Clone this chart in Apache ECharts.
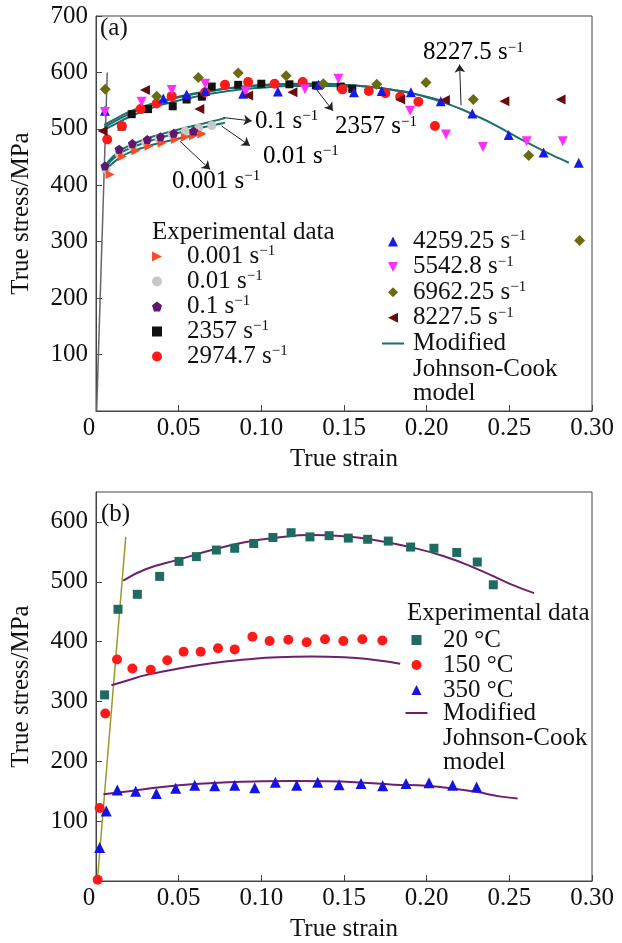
<!DOCTYPE html>
<html>
<head>
<meta charset="utf-8">
<script src="https://cdn.jsdelivr.net/npm/echarts@6/dist/echarts.min.js"></script>
<style>
html, body { margin: 0; padding: 0; background: #fff; }
#main { width: 622px; height: 943px; }
</style>
</head>
<body>
<div id="main"></div>
<script>
// panel (a) experimental data, [true strain, true stress MPa]
var rate0001 = [[0.0085,419],[0.016,451],[0.024,461],[0.032,469],[0.04,475],[0.048,481],[0.054,485],[0.059,488],[0.064,491]];
var rate001 = [[0.006,428],[0.014,456],[0.022,468],[0.030,476],[0.038,483],[0.046,490],[0.054,496],[0.062,501],[0.07,506]];
var rate01 = [[0.0054,434],[0.014,464],[0.022,474],[0.031,481],[0.039,486],[0.047,492],[0.059,496]];
var rate2357 = [[0.0155,504],[0.0216,526],[0.0315,535],[0.0464,540],[0.0548,552],[0.064,557],[0.07,575],[0.086,578],[0.10,580],[0.117,579],[0.133,577],[0.148,575],[0.155,571]];
var rate2974 = [[0.0068,481],[0.0157,505],[0.027,535],[0.0367,545],[0.0458,558],[0.066,565],[0.078,578],[0.092,583],[0.108,580],[0.125,583],[0.149,570],[0.165,567],[0.175,563],[0.184,557],[0.195,548],[0.205,505]];
var rate4259 = [[0.0054,532],[0.0407,554],[0.0548,561],[0.066,567],[0.089,562],[0.11,566],[0.1345,578],[0.156,565],[0.1728,567],[0.1905,565],[0.2085,549],[0.2276,527],[0.2496,489],[0.2707,458],[0.292,440]];
var rate5542 = [[0.0054,530],[0.0276,548],[0.0458,569],[0.066,580],[0.0905,566],[0.1264,570],[0.1466,589],[0.19,532],[0.2117,490],[0.234,468],[0.2605,478],[0.2823,478]];
var rate6962 = [[0.0056,570],[0.0367,558],[0.0619,591],[0.086,599],[0.115,594],[0.1375,580],[0.1698,579],[0.1996,582],[0.2282,552],[0.2617,453],[0.2925,302]];
var rate8227 = [[0.004,496],[0.0296,569],[0.0625,535],[0.092,559],[0.1188,565],[0.184,552],[0.211,551],[0.247,549],[0.281,552]];

// panel (a) model curves
var modelHigh = [[0.005,503],[0.01,511],[0.02,526],[0.03,538],[0.04,548],[0.05,556],[0.06,562],[0.07,567],[0.08,572],[0.09,575],[0.10,578],[0.11,579],[0.12,580],[0.13,580],[0.14,580],[0.15,578],[0.16,576],[0.17,573],[0.18,569],[0.19,564],[0.20,556],[0.21,547],[0.22,536],[0.23,523],[0.24,509],[0.25,493],[0.26,477],[0.27,462],[0.28,448],[0.286,440]];
var modelMid = [[0.005,507],[0.01,515],[0.02,530],[0.03,541],[0.04,550],[0.06,563],[0.08,572],[0.10,577],[0.12,579],[0.14,579],[0.16,576],[0.18,569],[0.20,557],[0.21,549]];
var modelLow = [[0.005,498],[0.01,506],[0.02,521],[0.03,533],[0.04,543],[0.06,557],[0.08,567],[0.10,573],[0.12,576],[0.14,576],[0.155,574]];
var model01 = [[0.0045,428],[0.007,440],[0.01,450],[0.015,462],[0.02,470],[0.03,482],[0.04,491],[0.05,499],[0.06,506],[0.07,513],[0.078,519]];
var model001 = [[0.0045,425],[0.007,436],[0.01,446],[0.015,457],[0.02,465],[0.03,476],[0.04,485],[0.05,493],[0.06,500],[0.07,506],[0.078,511]];
var model0001 = [[0.0045,420],[0.007,430],[0.01,439],[0.015,450],[0.02,458],[0.03,468],[0.04,476],[0.05,483],[0.06,489],[0.066,492]];
var elasticA = [[0.0004,0],[0.0068,600]];

// panel (b) experimental data
var temp20 = [[0.0052,311],[0.0133,454],[0.025,479],[0.0385,509],[0.0502,534],[0.0607,542],[0.0728,553],[0.0839,556],[0.0954,564],[0.107,574],[0.118,582],[0.1294,575],[0.141,577],[0.1526,573],[0.1643,571],[0.1768,568],[0.1903,558],[0.2044,556],[0.2182,549],[0.2306,533],[0.2403,495]];
var temp150 = [[0.001,2],[0.0022,122],[0.0056,280],[0.0127,370],[0.022,355],[0.0331,353],[0.0431,369],[0.053,383],[0.0633,383],[0.0738,389],[0.0839,387],[0.0946,408],[0.105,401],[0.1163,403],[0.1274,399],[0.1385,404],[0.1496,401],[0.1611,404],[0.1732,402]];
var temp350 = [[0.0022,56],[0.0062,117],[0.0129,152],[0.024,150],[0.0365,146],[0.0482,155],[0.0597,160],[0.0718,159],[0.0839,160],[0.096,156],[0.1085,165],[0.1214,160],[0.1341,165],[0.147,161],[0.1603,163],[0.1734,159],[0.1875,163],[0.2014,164],[0.2157,160],[0.2302,157]];

// panel (b) model curves
var model20 = [[0.0165,502],[0.03,521],[0.05,537],[0.07,553],[0.09,566],[0.11,574],[0.13,578],[0.15,576],[0.17,569],[0.19,558],[0.21,543],[0.23,522],[0.25,497],[0.265,481]];
var model150 = [[0.0093,327],[0.02,336],[0.03,344],[0.05,355],[0.07,364],[0.09,370],[0.11,374],[0.13,375],[0.15,374],[0.17,369],[0.184,363]];
var model350 = [[0.0045,145],[0.02,150],[0.04,157],[0.06,162],[0.08,165],[0.10,166.5],[0.12,167],[0.14,166.5],[0.16,164.5],[0.18,161],[0.20,159],[0.22,153],[0.23,149],[0.245,141],[0.255,138]];
var elasticB = [[0.0008,0],[0.018,575]];

// arrow annotations in panel (a): [rate, tailX, tailY, headX, headY, textX, textY]
var notes = [
    ['8227.5', 0.2208, 542, 0.2199, 614, 0.1978, 635],
    ['0.1', 0.077, 520, 0.0942, 514, 0.0962, 514],
    ['2357', 0.1325, 573, 0.1433, 532, 0.1446, 504],
    ['0.01', 0.076, 505, 0.0931, 470, 0.101, 452],
    ['0.001', 0.0508, 478, 0.069, 428, 0.046, 407]
];

var FONT = 'Liberation Serif';
var FS = 25;
var rich = {
    n: {fontFamily: FONT, fontSize: FS, color: '#111', lineHeight: 25},
    s: {fontFamily: FONT, fontSize: 15, color: '#111', verticalAlign: 'top', lineHeight: 25}
};
function rateText(r) { return '{n|' + r + ' s}{s|\u22121}'; }

var legendNames = {
    'r0001': rateText('0.001'), 'r001': rateText('0.01'), 'r01': rateText('0.1'),
    'r2357': rateText('2357'), 'r2974': rateText('2974.7'), 'r4259': rateText('4259.25'),
    'r5542': rateText('5542.8'), 'r6962': rateText('6962.25'), 'r8227': rateText('8227.5'),
    'jcA': '{n|Modified}', 't20': '{n|20 \u00b0C}', 't150': '{n|150 \u00b0C}', 't350': '{n|350 \u00b0C}',
    'jcB': '{n|Modified}'
};

var myChart = echarts.init(document.getElementById('main'));

function scatter(name, data, grid, color, symbol, size) {
    return {
        name: name, type: 'scatter', data: data,
        xAxisIndex: grid, yAxisIndex: grid,
        symbol: symbol, symbolSize: size || 9,
        itemStyle: {color: color, opacity: 1}, z: 3
    };
}
function curve(name, data, grid, color, width, smooth) {
    return {
        name: name, type: 'line', data: data,
        xAxisIndex: grid, yAxisIndex: grid,
        showSymbol: false, symbol: 'none', smooth: smooth,
        lineStyle: {color: color, width: width}, itemStyle: {color: color}, z: 2
    };
}

var pentagon = 'path://M50,0 L100,38 L81,100 L19,100 L0,38 Z';
var triRight = 'path://M0,0 L100,50 L0,100 Z';
var triLeft = 'path://M100,0 L0,50 L100,100 Z';
var triDown = 'path://M0,0 L100,0 L50,100 Z';
var teal = '#1b6f6c';
var purple = '#6e1f6e';

var arrowData = notes.map(function (d) {
    return [{coord: [d[1], d[2]]}, {coord: [d[3], d[4]]}];
});

var elasticSeriesA = curve('elasticA', elasticA, 0, '#666', 1.5, false);
elasticSeriesA.markLine = {
    silent: true, symbol: ['none', 'arrow'], symbolSize: 8,
    lineStyle: {color: '#222', width: 1, type: 'solid'},
    label: {show: false}, data: arrowData
};

function xAxisFor(grid) {
    return {
        type: 'value', gridIndex: grid, min: 0, max: 0.3, interval: 0.05,
        name: 'True strain', nameLocation: 'middle', nameGap: 36,
        nameTextStyle: {fontFamily: FONT, fontSize: FS, color: '#111'},
        axisLine: {show: true, lineStyle: {color: '#444', width: 1}},
        axisTick: {show: true, inside: true, length: 6, lineStyle: {color: '#444'}},
        axisLabel: {
            fontFamily: FONT, fontSize: FS, color: '#111', margin: 5,
            formatter: function (v) { return v === 0 ? '{z|0}' : v.toFixed(2); },
            rich: {z: {fontFamily: FONT, fontSize: FS, color: '#111', padding: [0, 14, 0, 0]}}
        },
        splitLine: {show: false}
    };
}
function yAxisFor(grid, max) {
    return {
        type: 'value', gridIndex: grid, min: 0, max: max, interval: 100,
        name: 'True stress/MPa', nameLocation: 'middle', nameGap: 62,
        nameTextStyle: {fontFamily: FONT, fontSize: FS, color: '#111'},
        axisLine: {show: true, lineStyle: {color: '#444', width: 1}},
        axisTick: {show: true, inside: true, length: 6, lineStyle: {color: '#444'}},
        axisLabel: {
            fontFamily: FONT, fontSize: FS, color: '#111', margin: 8, showMaxLabel: max === 700,
            formatter: function (v) { return v === 0 ? '' : String(v); }
        },
        splitLine: {show: false}
    };
}

function legendAt(names, left, top, gap, pad, icon, w, h) {
    var lg = {
        data: names, orient: 'vertical', left: left, top: top, itemGap: gap,
        itemWidth: w || 10, itemHeight: h || 10, selectedMode: false, padding: 0,
        formatter: function (name) { return legendNames[name]; },
        textStyle: {fontFamily: FONT, fontSize: FS, color: '#111', padding: [0, 0, 0, pad], rich: rich}
    };
    if (icon) { lg.icon = icon; }
    return lg;
}

myChart.setOption({
    animation: false,
    backgroundColor: '#fff',
    grid: [
        {left: 96, top: 16, width: 496, height: 395, show: true, borderColor: '#444', borderWidth: 1, backgroundColor: 'transparent'},
        {left: 96, top: 492, width: 496, height: 395, show: true, borderColor: '#444', borderWidth: 1, backgroundColor: 'transparent'}
    ],
    xAxis: [xAxisFor(0), xAxisFor(1)],
    yAxis: [yAxisFor(0, 700), yAxisFor(1, 650)],
    legend: [
        legendAt(['r0001', 'r001', 'r01', 'r2357', 'r2974'], 152, 244, 0, 20),
        legendAt(['r4259', 'r5542', 'r6962', 'r8227'], 388, 229, 0.4, 10),
        legendAt(['jcA'], 382, 331, 0, 4, 'rect', 22, 2),
        legendAt(['t20', 't150', 't350'], 411.5, 627.5, 0, 16.5),
        legendAt(['jcB'], 405.5, 700.5, 0, 10.5, 'rect', 22, 2)
    ],
    series: [
        elasticSeriesA,
        curve('jcA', modelHigh, 0, teal, 2, true),
        curve('jcA', modelMid, 0, teal, 2, true),
        curve('jcA', modelLow, 0, teal, 2, true),
        curve('jcA', model01, 0, teal, 2, true),
        curve('jcA', model001, 0, teal, 2, true),
        curve('jcA', model0001, 0, teal, 2, true),
        scatter('r001', rate001, 0, '#c8c8c8', 'circle', 9),
        scatter('r0001', rate0001, 0, '#ff4a26', triRight, 9),
        scatter('r01', rate01, 0, '#5e1670', pentagon, 9),
        scatter('r2357', rate2357, 0, '#111', 'rect', 8),
        scatter('r2974', rate2974, 0, '#ff1a1a', 'circle', 10),
        scatter('r4259', rate4259, 0, '#1a1ae6', 'triangle', 10),
        scatter('r5542', rate5542, 0, '#ff2eff', triDown, 10),
        scatter('r6962', rate6962, 0, '#6b6b12', 'diamond', 11),
        scatter('r8227', rate8227, 0, '#6a0b0b', triLeft, 10),

        curve('elasticB', elasticB, 1, '#9a9a2c', 1.5, false),
        curve('jcB', model20, 1, purple, 2, true),
        curve('jcB', model150, 1, purple, 2, true),
        curve('jcB', model350, 1, purple, 2, true),
        scatter('t20', temp20, 1, '#1d6b62', 'rect', 9),
        scatter('t150', temp150, 1, '#ff1a1a', 'circle', 10),
        scatter('t350', temp350, 1, '#1414e0', 'triangle', 11)
    ]
});

function label(text, x, y, isRich) {
    return {
        type: 'text', x: x, y: y, z: 10,
        style: isRich ? {text: text, rich: rich, verticalAlign: 'middle', align: 'left'}
                      : {text: text, font: FS + 'px "' + FONT + '"', fill: '#111', verticalAlign: 'middle', align: 'left'}
    };
}

var graphics = [
    label('(a)', 100, 28),
    label('(b)', 101, 514),
    label('Experimental data', 152, 232),
    label('Experimental data', 407, 613),
    label('Johnson-Cook', 413, 369),
    label('model', 413, 393),
    label('Johnson-Cook', 443, 738),
    label('model', 443, 762)
];
notes.forEach(function (d) {
    var p = myChart.convertToPixel({gridIndex: 0}, [d[5], d[6]]);
    graphics.push(label(rateText(d[0]), p[0], p[1], true));
});
myChart.setOption({graphic: graphics});
</script>
</body>
</html>
